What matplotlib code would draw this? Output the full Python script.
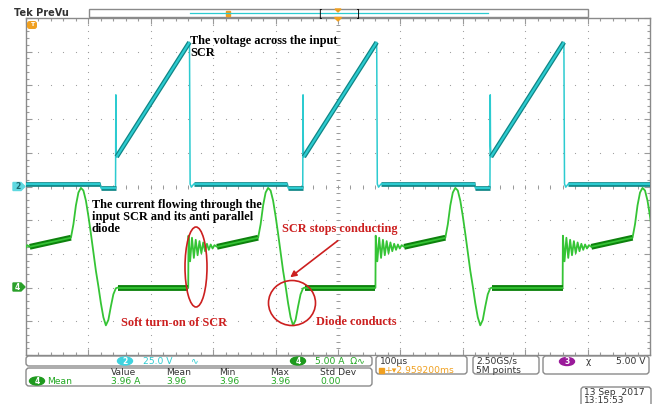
import numpy as np
import matplotlib
matplotlib.use("Agg")
import matplotlib.pyplot as plt
from matplotlib.patches import Ellipse, FancyBboxPatch, Polygon, Rectangle, FancyArrowPatch

# ---------------- acquisition settings ----------------
TIME_PER_DIV = 100.0        # µs / div
CH2_VOLTS_PER_DIV = 25.0    # voltage probe
CH4_AMPS_PER_DIV = 5.0      # current probe
CH2_OFFSET_DIV = 0.0
CH4_OFFSET_DIV = -3.0

# start of each SCR blocking interval (µs)
cycle_starts = [-156, 144, 444, 744]

# voltage across the input SCR over one cycle (time relative to cycle start, µs)
v_time = [-25, -24, -0.5, 0.0, 0.4, 1.2, 118, 119, 121, 125, 275]
v_volts = [1.9, -1.1, -1.1, 68, 30, 22, 107, 1.9, -0.5, 1.9, 1.9]

# current through the SCR and its anti-parallel diode over one cycle
i_time = [3, 116, 116.4, 119, 122, 125, 128, 131, 134, 137, 140, 143, 146, 149,
          152, 155, 158, 162, 228, 232, 236, 240, 244, 248, 252, 256, 260, 264,
          268, 272, 276, 280, 284, 288, 292, 296, 300, 303]
i_amps = [0, 0, 7.7, 3.9, 7.4, 4.4, 7.1, 4.8, 6.9, 5.1, 6.7, 5.4, 6.5, 5.6,
          6.4, 5.8, 6.3, 6.05, 7.4, 9.4, 12.2, 14.1, 14.8, 14.4, 12.9, 10.6, 8.0, 5.2,
          2.5, 0.2, -2.3, -4.4, -5.6, -4.8, -2.8, -1.0, -0.1, 0]

# measurement readout
meas_headers = ["Value", "Mean", "Min", "Max", "Std Dev"]
meas_values = ["3.96 A", "3.96", "3.96", "3.96", "0.00"]

CYAN = "#2ccbd0"
TEAL = "#0f8585"
GREEN = "#35c435"
DKGREEN = "#0d820d"
RED = "#cc1f1f"
GRID = "#9a9a9a"
ORANGE = "#f0a020"
TXTGREEN = "#22a822"


def tile(rel_t, vals, sl=slice(None)):
    t = np.concatenate([np.asarray(rel_t, float)[sl] + s for s in cycle_starts])
    y = np.concatenate([np.asarray(vals, float)[sl] for _ in cycle_starts])
    return t, y


fig = plt.figure(figsize=(6.58, 4.04), dpi=100)
fig.patch.set_facecolor("white")
W, H = 658, 404
L, T, R, B = 26, 18, 650, 355
ax = fig.add_axes([L / W, 1 - B / H, (R - L) / W, (B - T) / H])
ax.set_xlim(0, 10 * TIME_PER_DIV)
ax.set_ylim(-5, 5)
for s in ax.spines.values():
    s.set_color("#8a8a8a")
    s.set_linewidth(1.0)
ax.set_xticks(np.arange(0, 1001, 100))
ax.set_xticks(np.arange(0, 1001, 20), minor=True)
ax.set_yticks(np.arange(-5, 5.01, 1))
ax.set_yticks(np.arange(-5, 5.01, 0.2), minor=True)
ax.tick_params(which="both", direction="in", top=True, right=True,
               labelbottom=False, labelleft=False, color=GRID, width=0.8)
ax.tick_params(which="major", length=4)
ax.tick_params(which="minor", length=2.5)

# graticule dots
for gx in np.arange(100, 1000, 100):
    ys = np.arange(-5, 5.01, 0.2)
    ax.scatter(np.full_like(ys, gx), ys, s=0.7, color=GRID, lw=0, zorder=1)
for gy in np.arange(-4, 5, 1):
    xs = np.arange(0, 1001, 20)
    ax.scatter(xs, np.full_like(xs, gy, dtype=float), s=0.7, color=GRID, lw=0, zorder=1)
# centre cross-hair with minor ticks
cx = np.arange(0, 1001, 20)
ax.scatter(cx, np.zeros_like(cx, dtype=float), marker="|", s=12, color=GRID, lw=0.7, zorder=1)
cy = np.arange(-5, 5.01, 0.2)
ax.scatter(np.full_like(cy, 500), cy, marker="_", s=12, color=GRID, lw=0.7, zorder=1)

# ---------------- channel 2 : SCR voltage ----------------
vt, vv = tile(v_time, v_volts)
vy = vv / CH2_VOLTS_PER_DIV + CH2_OFFSET_DIV
ax.plot(vt, vy, color=CYAN, lw=1.1, zorder=3)
for sl in (slice(5, 7), slice(9, 11), slice(1, 3)):
    t, v = tile(v_time, v_volts, sl)
    for k in range(len(cycle_starts)):
        tt, yy = t[2 * k:2 * k + 2], v[2 * k:2 * k + 2] / CH2_VOLTS_PER_DIV + CH2_OFFSET_DIV
        ax.plot(tt, yy, color=TEAL, lw=3.4, zorder=3, solid_capstyle="butt")
        ax.plot(tt, yy, color=CYAN, lw=1.6, zorder=4, solid_capstyle="butt")

# ---------------- channel 4 : SCR / diode current ----------------
it, ia = tile(i_time, i_amps)
iy = ia / CH4_AMPS_PER_DIV + CH4_OFFSET_DIV
ax.plot(it, iy, color=GREEN, lw=1.3, zorder=3)
for sl in (slice(0, 2), slice(17, 19)):
    t, a = tile(i_time, i_amps, sl)
    for k in range(len(cycle_starts)):
        tt, yy = t[2 * k:2 * k + 2], a[2 * k:2 * k + 2] / CH4_AMPS_PER_DIV + CH4_OFFSET_DIV
        ax.plot(tt, yy, color=DKGREEN, lw=4.2, zorder=3, solid_capstyle="butt")
        ax.plot(tt, yy, color=GREEN, lw=1.3, zorder=4, solid_capstyle="butt")

# ---------------- overlay in pixel coordinates ----------------
ui = fig.add_axes([0, 0, 1, 1], zorder=10)
ui.set_xlim(0, W)
ui.set_ylim(H, 0)
ui.axis("off")
ui.patch.set_alpha(0)

SERIF = dict(family=["Liberation Serif", "DejaVu Serif"], weight="bold", fontsize=8.8)
SANS = dict(family=["DejaVu Sans"], fontsize=6.6)

ui.text(190, 47, "The voltage across the input\nSCR", color="black", va="center",
        ha="left", linespacing=1.0, **SERIF)
ui.text(92, 217, "The current flowing through the\ninput SCR and its anti parallel\ndiode",
        color="black", va="center", ha="left", linespacing=1.0, **SERIF)
ui.text(121, 323, "Soft turn-on of SCR", color=RED, va="center", ha="left", **SERIF)
ui.text(282, 229, "SCR stops conducting", color=RED, va="center", ha="left", **SERIF)
ui.text(316, 322, "Diode conducts", color=RED, va="center", ha="left", **SERIF)

ui.add_patch(Ellipse((196, 267), 22, 80, fill=False, ec=RED, lw=1.2))
ui.add_patch(Ellipse((292, 303), 47, 45, fill=False, ec=RED, lw=1.2))
ui.add_patch(FancyArrowPatch((340, 239), (288, 279), arrowstyle="-|>",
                             mutation_scale=9, color=RED, lw=1.2))

# top status bar
ui.text(14, 13, "Tek PreVu", color="#333333", va="center", ha="left",
        family="DejaVu Sans", fontsize=7, weight="bold")
ui.add_patch(Rectangle((89, 9), 499, 8, fill=False, ec="#8a8a8a", lw=1))
ui.plot([190, 488], [13, 13], color=CYAN, lw=0.9)
ui.add_patch(Rectangle((226, 10.5), 4, 5, color=ORANGE))
ui.text(320, 13, "[", color="black", va="center", ha="center", fontsize=7)
ui.text(357, 13, "]", color="black", va="center", ha="center", fontsize=7)
ui.add_patch(Polygon([[335, 9], [341, 9], [338, 12]], color=ORANGE))
ui.add_patch(Polygon([[334.5, 17.5], [341.5, 17.5], [338, 21]], color=ORANGE))
ui.add_patch(FancyBboxPatch((28, 22), 8, 6, boxstyle="round,pad=0.3,rounding_size=2",
                            color=ORANGE))
ui.text(32, 25, "T", color="white", fontsize=4.5, ha="center", va="center", weight="bold")

# channel ground markers
for yy, col, lab in ((186.5, "#5fd8e0", "2"), (287, "#2aa02a", "4")):
    ui.add_patch(Polygon([[13, yy - 4], [21, yy - 4], [25, yy], [21, yy + 4], [13, yy + 4]],
                         color=col))
    ui.text(17.5, yy, lab, color="white" if lab == "4" else "#1a6a70", fontsize=5.5,
            ha="center", va="center", weight="bold")


def box(x0, y0, x1, y1):
    ui.add_patch(FancyBboxPatch((x0, y0), x1 - x0, y1 - y0,
                                boxstyle="round,pad=0,rounding_size=3",
                                fc="white", ec="#8a8a8a", lw=1))


def badge(x, y, lab, col):
    ui.add_patch(Ellipse((x, y), 15, 8, color=col))
    ui.text(x, y, lab, color="white", fontsize=5.5, ha="center", va="center", weight="bold")


# channel settings
box(26, 356, 372, 366)
badge(125, 361, "2", "#3fd3df")
ui.text(143, 361, "25.0 V", color=CYAN, va="center", ha="left", **SANS)
ui.text(190, 361, "∿", color=CYAN, va="center", ha="left", **SANS)
badge(298, 361, "4", "#1e9a1e")
ui.text(315, 361, "5.00 A  Ω∿", color=TXTGREEN, va="center", ha="left", **SANS)

# measurement readout
box(26, 368, 372, 386)
badge(37, 381, "4", "#1e9a1e")
ui.text(47, 381, "Mean", color=TXTGREEN, va="center", ha="left", **SANS)
for xh, hd, vl in zip([111, 166, 219, 270, 320], meas_headers, meas_values):
    ui.text(xh, 372.5, hd, color="#333333", va="center", ha="left", **SANS)
    ui.text(xh, 381, vl, color=TXTGREEN, va="center", ha="left", **SANS)

# horizontal / acquisition
box(376, 356, 467, 374)
ui.text(380, 361.5, "100µs", color="#333333", va="center", ha="left", **SANS)
ui.add_patch(Rectangle((379, 367.5), 5, 5, color=ORANGE))
ui.text(385, 370.5, "+▾2.959200ms", color=ORANGE, va="center", ha="left", **SANS)
box(473, 356, 539, 374)
ui.text(476, 361.5, "2.50GS/s", color="#333333", va="center", ha="left", **SANS)
ui.text(476, 370.5, "5M points", color="#333333", va="center", ha="left", **SANS)
box(543, 356, 649, 374)
badge(567, 361.5, "3", "#9a1a9a")
ui.text(586, 361.5, "χ", color="#333333", va="center", ha="left", **SANS)
ui.text(646, 361.5, "5.00 V", color="#333333", va="center", ha="right", **SANS)

box(581, 387, 651, 410)
ui.text(584, 392.5, "13 Sep  2017", color="#333333", va="center", ha="left", **SANS)
ui.text(584, 400.5, "13:15:53", color="#333333", va="center", ha="left", **SANS)

fig.savefig("out.png", dpi=100)
